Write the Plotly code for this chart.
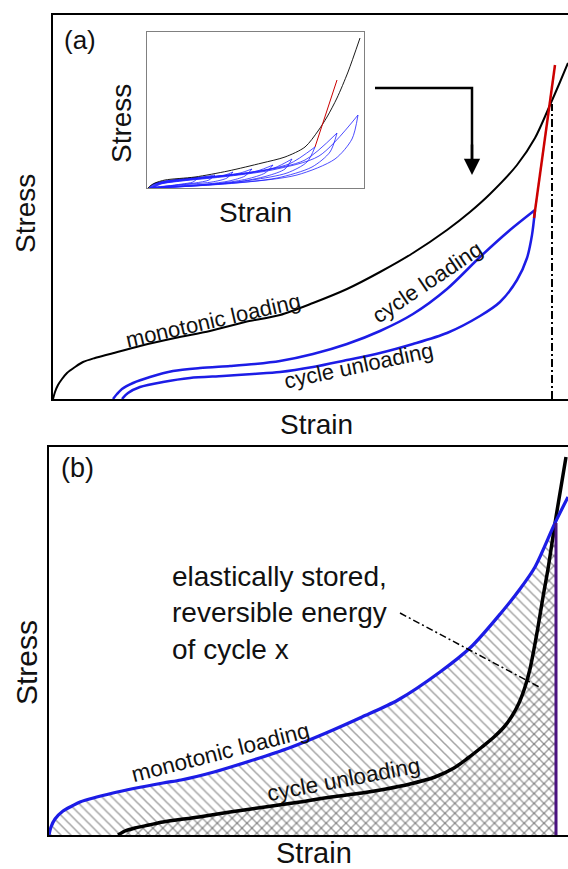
import plotly.graph_objects as go

W, H = 568, 869

# ---------------- panel (a): schematic units ----------------
mono_a_x = [0, 2, 5, 9, 14, 22, 30, 42, 57, 87, 122, 157, 192, 227, 260, 294, 327, 360, 394, 417, 437, 464, 482, 497, 507, 515]
mono_a_y = [0, 7, 14, 20, 26, 32, 37, 41, 45, 53, 61, 68, 77, 84, 96, 110, 127, 146, 169, 187, 205, 234, 261, 294, 317, 336]

load_a_x = [60, 64, 69, 80, 97, 120, 147, 177, 202, 227, 260, 294, 327, 360, 394, 427, 457, 482]
load_a_y = [0, 5, 10, 16, 22, 28, 31, 33, 35, 38, 45, 55, 68, 85, 110, 142, 169, 189]

unload_a_x = [482, 479, 474, 464, 447, 427, 394, 360, 327, 294, 260, 227, 200, 170, 137, 110, 87, 75, 69]
unload_a_y = [189, 164, 141, 119, 97, 83, 66, 55, 46, 39, 32, 27, 25, 23, 21, 17, 12, 6, 0]

red_a_x = [481, 502]
red_a_y = [181, 334]

limit_a_x = [499, 499]
limit_a_y = [0, 295]

arrow_x = [322, 419, 419]
arrow_y = [311, 311, 236]
arrow_tip = [419, 224]

# ---------------- inset ----------------
inset_mono_x = [1, 3, 8, 18, 48, 81, 115, 138, 158, 171, 180, 190, 201, 213]
inset_mono_y = [0, 2, 5, 8, 11, 17, 25, 31, 41, 57, 71, 90, 116, 150]

inset_red_x = [168, 190]
inset_red_y = [41, 108]

loop_load_x = [
    [2, 6, 15, 30, 44, 51],
    [2, 7, 18, 35, 55, 68],
    [3, 8, 20, 40, 62, 78, 86],
    [3, 9, 22, 45, 72, 93, 105],
    [4, 10, 25, 50, 82, 110, 126],
    [4, 11, 28, 58, 95, 127, 145],
    [5, 12, 30, 65, 105, 142, 168],
    [5, 13, 32, 70, 115, 158, 190],
    [6, 14, 35, 75, 125, 172, 211],
]
loop_load_y = [
    [0, 4, 6, 8, 9, 10],
    [0, 4, 7, 9, 11, 13],
    [0, 4, 7, 9, 11, 13, 16],
    [0, 4, 7, 10, 12, 15, 19],
    [0, 4, 7, 10, 13, 17, 23],
    [0, 4, 7, 10, 14, 20, 29],
    [0, 4, 7, 11, 16, 24, 41],
    [0, 4, 7, 11, 17, 28, 55],
    [0, 4, 7, 11, 18, 32, 73],
]
loop_unload_x = [
    [51, 46, 35, 20, 8, 3],
    [68, 62, 48, 30, 12, 4],
    [86, 80, 65, 45, 22, 5],
    [105, 98, 82, 60, 30, 6],
    [126, 118, 100, 75, 40, 7],
    [145, 138, 120, 90, 50, 8],
    [168, 160, 140, 105, 60, 9],
    [190, 183, 165, 130, 75, 10],
    [211, 205, 188, 150, 90, 11],
]
loop_unload_y = [
    [10, 6, 4, 2, 1, 0],
    [13, 8, 5, 3, 1, 0],
    [16, 10, 6, 4, 2, 0],
    [19, 12, 7, 4, 2, 0],
    [23, 15, 9, 5, 2, 0],
    [29, 19, 12, 6, 3, 0],
    [41, 26, 15, 8, 3, 0],
    [55, 36, 21, 10, 4, 0],
    [73, 49, 29, 13, 5, 0],
]

# ---------------- panel (b) ----------------
mono_b_x = [0, 2, 6, 14, 23, 31, 64, 114, 132, 165, 201, 240, 277, 313, 349, 391, 422, 452, 471, 486, 506, 519]
mono_b_y = [0, 8, 16, 24, 29, 33, 42, 52, 55, 63, 74, 87, 102, 118, 135, 163, 188, 222, 246, 268, 312, 338]

unload_b_x = [69, 76, 86, 100, 114, 150, 181, 216, 251, 282, 313, 337, 361, 386, 405, 419, 433, 445, 455, 463, 470, 476, 481, 485, 489, 494, 499, 503, 507, 512, 517]
unload_b_y = [0, 4, 7, 10, 13, 18, 23, 28, 33, 38, 42, 46, 51, 58, 67, 77, 88, 98, 108, 119, 132, 148, 166, 186, 208, 238, 266, 292, 318, 348, 378]

purple_x = [507, 507]
purple_y = [0, 312]

leader_x = [351, 492]
leader_y = [222, 147]

FONT = "Liberation Sans, Arial, sans-serif"
BLUE = "#1c1ce6"
SPL = dict(shape="spline", smoothing=0.8)

fig = go.Figure()

# ---- panel a traces
fig.add_trace(go.Scatter(x=mono_a_x, y=mono_a_y, mode="lines", line=dict(color="black", width=2, **SPL), xaxis="x", yaxis="y"))
fig.add_trace(go.Scatter(x=load_a_x, y=load_a_y, mode="lines", line=dict(color=BLUE, width=2.5, **SPL), xaxis="x", yaxis="y"))
fig.add_trace(go.Scatter(x=unload_a_x, y=unload_a_y, mode="lines", line=dict(color=BLUE, width=2.5, **SPL), xaxis="x", yaxis="y"))
fig.add_trace(go.Scatter(x=limit_a_x, y=limit_a_y, mode="lines", line=dict(color="black", width=2, dash="8px,3px,2px,3px"), xaxis="x", yaxis="y"))
fig.add_trace(go.Scatter(x=red_a_x, y=red_a_y, mode="lines", line=dict(color="#cc0000", width=2.5), xaxis="x", yaxis="y"))
fig.add_trace(go.Scatter(x=arrow_x, y=arrow_y, mode="lines", line=dict(color="black", width=2.5), xaxis="x", yaxis="y"))

# ---- inset traces
for lx, ly in zip(loop_load_x, loop_load_y):
    fig.add_trace(go.Scatter(x=lx, y=ly, mode="lines", line=dict(color="#2020ff", width=0.8, **SPL), xaxis="x3", yaxis="y3"))
for ux, uy in zip(loop_unload_x, loop_unload_y):
    fig.add_trace(go.Scatter(x=ux, y=uy, mode="lines", line=dict(color="#2020ff", width=0.8, **SPL), xaxis="x3", yaxis="y3"))
fig.add_trace(go.Scatter(x=inset_mono_x, y=inset_mono_y, mode="lines", line=dict(color="black", width=0.9, **SPL), xaxis="x3", yaxis="y3"))
fig.add_trace(go.Scatter(x=inset_red_x, y=inset_red_y, mode="lines", line=dict(color="#cc0000", width=1), xaxis="x3", yaxis="y3"))

# ---- panel b fills
n_top = sum(1 for v in mono_b_x if v <= purple_x[0])
fig.add_trace(go.Scatter(x=mono_b_x[:n_top], y=mono_b_y[:n_top], mode="lines", line=dict(width=0, **SPL),
                         fill="tozeroy", fillcolor="rgba(0,0,0,0)",
                         fillpattern=dict(shape="\\", fgcolor="#4a4a4a", bgcolor="rgba(0,0,0,0)", size=7, solidity=0.22),
                         xaxis="x2", yaxis="y2"))
n_low = sum(1 for v in unload_b_x if v < purple_x[0])
fig.add_trace(go.Scatter(x=unload_b_x[:n_low] + [purple_x[1]], y=unload_b_y[:n_low] + [purple_y[1]], mode="lines",
                         line=dict(width=0, **SPL),
                         fill="tozeroy", fillcolor="rgba(0,0,0,0)",
                         fillpattern=dict(shape="/", fgcolor="#4a4a4a", bgcolor="rgba(0,0,0,0)", size=7, solidity=0.22),
                         xaxis="x2", yaxis="y2"))

# ---- panel b lines
fig.add_trace(go.Scatter(x=unload_b_x, y=unload_b_y, mode="lines", line=dict(color="black", width=3.5, **SPL), xaxis="x2", yaxis="y2"))
fig.add_trace(go.Scatter(x=mono_b_x, y=mono_b_y, mode="lines", line=dict(color=BLUE, width=3.2, **SPL), xaxis="x2", yaxis="y2"))
fig.add_trace(go.Scatter(x=purple_x, y=purple_y, mode="lines", line=dict(color="#4b1480", width=3), xaxis="x2", yaxis="y2"))
fig.add_trace(go.Scatter(x=leader_x, y=leader_y, mode="lines", line=dict(color="black", width=1.5, dash="7px,3px,2px,3px"), xaxis="x2", yaxis="y2"))


def px_x(p):
    return p / W


def px_y(p):
    return 1 - p / H


hidden = dict(showticklabels=False, ticks="", showgrid=False, zeroline=False, fixedrange=True)
fig.update_layout(
    width=W, height=H, margin=dict(l=0, r=0, t=0, b=0),
    paper_bgcolor="white", plot_bgcolor="white", showlegend=False,
    xaxis=dict(domain=[px_x(53), 1], range=[0, 515], showline=True, mirror=True, linecolor="black", linewidth=2, anchor="y", **hidden),
    yaxis=dict(domain=[px_y(399), px_y(15)], range=[0, 384], showline=True, mirror=False, linecolor="black", linewidth=2, anchor="x", **hidden),
    xaxis2=dict(domain=[px_x(49), 1], range=[0, 519], showline=True, mirror=True, linecolor="black", linewidth=2, anchor="y2", **hidden),
    yaxis2=dict(domain=[px_y(835), px_y(447)], range=[0, 388], showline=True, mirror=False, linecolor="black", linewidth=2, anchor="x2", **hidden),
    xaxis3=dict(domain=[px_x(147), px_x(364)], range=[0, 217], showline=True, mirror=True, linecolor="#808080", linewidth=1, anchor="y3", **hidden),
    yaxis3=dict(domain=[px_y(188), px_y(32)], range=[0, 156], showline=True, mirror=True, linecolor="#808080", linewidth=1, anchor="x3", **hidden),
)

ann = []


def paper_text(text, x, y, size, angle=0):
    ann.append(dict(text=text, x=px_x(x), y=px_y(y), xref="paper", yref="paper", showarrow=False,
                    textangle=angle, font=dict(family=FONT, size=size, color="#111111"),
                    xanchor="center", yanchor="middle"))


def data_text(text, x, y, size, angle, xr, yr):
    ann.append(dict(text=text, x=x, y=y, xref=xr, yref=yr, showarrow=False,
                    textangle=angle, font=dict(family=FONT, size=size, color="#111111"),
                    xanchor="center", yanchor="middle"))


# axis titles & panel tags
paper_text("Stress", 25, 214, 28, -90)
paper_text("Strain", 316, 424, 28)
paper_text("(a)", 80, 40, 26)
paper_text("Stress", 121, 124, 28, -90)
paper_text("Strain", 255, 212, 28)
paper_text("Stress", 26, 663, 30, -90)
paper_text("Strain", 314, 853, 29)
paper_text("(b)", 77, 468, 27)

# curve labels
data_text("monotonic loading", 160, 78, 22, -12.9, "x", "y")
data_text("cycle loading", 374, 116, 22, -34, "x", "y")
data_text("cycle unloading", 306, 33, 22, -12, "x", "y")
data_text("monotonic loading", 171, 83, 22.5, -14.3, "x2", "y2")
data_text("cycle unloading", 294, 56, 22.5, -10.7, "x2", "y2")

ann.append(dict(text="elastically stored,<br>reversible energy<br>of cycle x", x=121, y=222, xref="x2", yref="y2",
                showarrow=False, align="left", xanchor="left", yanchor="middle",
                font=dict(family=FONT, size=28, color="#111111")))

# arrow head
ann.append(dict(text="", x=arrow_tip[0], y=arrow_tip[1], ax=arrow_x[2], ay=arrow_y[2] + 20, xref="x", yref="y",
                axref="x", ayref="y", showarrow=True, arrowhead=2, arrowsize=1.3, arrowwidth=2.5, arrowcolor="black"))

fig.update_layout(annotations=ann)
fig.write_html("out.html", config={"displayModeBar": False, "staticPlot": True},
               post_script="document.body.style.margin='0';document.body.style.overflow='hidden';")
